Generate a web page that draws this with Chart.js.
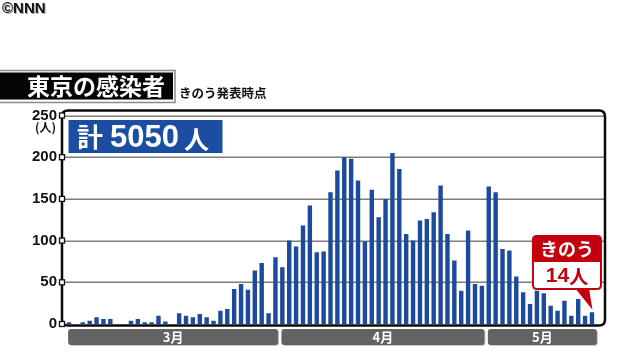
<!DOCTYPE html>
<html><head><meta charset="utf-8">
<script src="https://cdn.jsdelivr.net/npm/chart.js@4/dist/chart.umd.min.js"></script>
<style>html,body{margin:0;padding:0;background:#fff;}#wrap{width:640px;height:360px;position:relative;}</style>
</head><body><div id="wrap"><canvas id="c" width="640" height="360"></canvas></div>
<script>
// ---- data ----
const marchCases = [2,0,2,4,8,6,6,0,0,4,6,2,2,10,3,0,13,10,8,12,8,4,16,18,42,48,41,64,73,13,80];
const aprilCases = [68,100,93,118,142,86,87,158,184,200,198,172,99,161,128,150,205,186,108,100,124,126,134,166,108,76,40,112,48,46];
const mayCases   = [165,158,90,88,57,38,24,40,37,22,16,28,10,30,10,14];
const monthNumbers = [3,4,5];
const monthLabels = ['3月','4月','5月'];
const yTickValues = [0,50,100,150,200,250];
const totalCases = 5050;
const titleText = '東京の感染者';
const subtitleText = 'きのう発表時点';
const unitText = '(人)';
const calloutHead = 'きのう';

const monthSeries = [marchCases, aprilCases, mayCases];
const categories = [];
const values = [];
monthSeries.forEach((arr, mi) => {
  arr.forEach((v, d) => { categories.push(monthNumbers[mi] + '/' + (d + 1)); values.push(v); });
});

const JP = '"Noto Sans CJK JP", "Noto Sans", sans-serif';
const NUM = '"Liberation Sans", Arial, "Noto Sans CJK JP", sans-serif';

function rr(ctx, x, y, w, h, r) {
  ctx.beginPath();
  ctx.moveTo(x + r, y);
  ctx.lineTo(x + w - r, y); ctx.quadraticCurveTo(x + w, y, x + w, y + r);
  ctx.lineTo(x + w, y + h - r); ctx.quadraticCurveTo(x + w, y + h, x + w - r, y + h);
  ctx.lineTo(x + r, y + h); ctx.quadraticCurveTo(x, y + h, x, y + h - r);
  ctx.lineTo(x, y + r); ctx.quadraticCurveTo(x, y, x + r, y);
  ctx.closePath();
}

const FRAME = {x0: 62, x1: 605, y0: 110.5, y1: 325.5};

const decor = {
  id: 'decor',
  beforeDraw(chart) {
    const ctx = chart.ctx;
    ctx.save();
    ctx.fillStyle = '#ffffff';
    ctx.fillRect(0, 0, chart.width, chart.height);
    // logo
    ctx.font = 'bold 15px ' + NUM;
    ctx.textBaseline = 'middle';
    ctx.textAlign = 'left';
    ctx.fillStyle = '#aaa';
    ctx.fillText('©NNN', 3, 9.5);
    ctx.fillStyle = '#111';
    ctx.fillText('©NNN', 2, 8.5);
    // title box
    ctx.strokeStyle = '#8a8a8a';
    ctx.lineWidth = 1.5;
    ctx.strokeRect(-2, 70.5, 177, 32);
    ctx.fillStyle = '#050505';
    ctx.fillRect(0, 72.5, 173, 27);
    ctx.fillStyle = '#ffffff';
    ctx.font = 'bold 23px ' + JP;
    ctx.textAlign = 'center';
    ctx.fillText(titleText, 96, 86.5);
    ctx.fillStyle = '#111';
    ctx.font = 'bold 12.5px ' + JP;
    ctx.textAlign = 'left';
    ctx.fillText(subtitleText, 179, 93.5);
    ctx.restore();
  },
  beforeDatasetsDraw(chart) {
    const ctx = chart.ctx, ys = chart.scales.y;
    ctx.save();
    ctx.strokeStyle = '#7d7d7d';
    ctx.lineWidth = 1.5;
    yTickValues.forEach(v => {
      if (v === 0) return;
      const y = Math.round(ys.getPixelForValue(v)) + 0.25;
      ctx.beginPath(); ctx.moveTo(FRAME.x0, y); ctx.lineTo(FRAME.x1, y); ctx.stroke();
    });
    ctx.restore();
  },
  afterDatasetsDraw(chart) {
    const ctx = chart.ctx, ys = chart.scales.y, xs = chart.scales.x;
    ctx.save();
    // frame
    ctx.strokeStyle = '#0a0a0a';
    ctx.lineWidth = 2.5;
    rr(ctx, FRAME.x0, FRAME.y0, FRAME.x1 - FRAME.x0, FRAME.y1 - FRAME.y0, 6);
    ctx.stroke();
    // tick squares
    yTickValues.forEach(v => {
      const y = ys.getPixelForValue(v);
      ctx.fillStyle = '#fff';
      ctx.fillRect(FRAME.x0 - 2.5, y - 2.5, 5, 5);
      ctx.strokeStyle = '#111';
      ctx.lineWidth = 1.3;
      ctx.strokeRect(FRAME.x0 - 2.5, y - 2.5, 5, 5);
    });
    // unit
    ctx.fillStyle = '#111';
    ctx.font = 'bold 12px ' + JP;
    ctx.textAlign = 'right';
    ctx.textBaseline = 'middle';
    ctx.fillText(unitText, 56, ys.getPixelForValue(250) + 12);

    // total box
    ctx.fillStyle = '#1b4ea3';
    ctx.fillRect(68.5, 120, 154, 33);
    ctx.fillStyle = '#ffffff';
    ctx.textAlign = 'left';
    ctx.font = 'bold 26px ' + JP;
    ctx.fillText('計', 77, 137);
    ctx.font = 'bold 31px ' + NUM;
    ctx.fillText(String(totalCases), 110, 138);
    ctx.font = 'bold 25px ' + JP;
    ctx.fillText('人', 184, 139);

    // month bars
    const pitch = xs.getPixelForValue(1) - xs.getPixelForValue(0);
    let start = 0;
    monthSeries.forEach((arr, mi) => {
      const first = start, last = start + arr.length - 1;
      start += arr.length;
      const xa = xs.getPixelForValue(first) - pitch / 2 + 2.5;
      const xb = xs.getPixelForValue(last) + pitch / 2 - (mi === monthSeries.length - 1 ? -1.5 : 0.8);
      ctx.fillStyle = '#c8c8c8';
      rr(ctx, xa + 1, 330, xb - xa, 16, 3); ctx.fill();
      ctx.fillStyle = '#636363';
      rr(ctx, xa, 329, xb - xa, 16, 3); ctx.fill();
      ctx.fillStyle = '#ffffff';
      ctx.font = 'bold 13px ' + JP;
      ctx.textAlign = 'center';
      ctx.fillText(monthLabels[mi], (xa + xb) / 2, 337.5);
    });

    // callout to last bar
    const meta = chart.getDatasetMeta(0);
    const lastEl = meta.data[meta.data.length - 1];
    const bx = lastEl.x, by = lastEl.y;
    const red = '#c4000e';
    const L = bx - 59, R = bx + 9, T = 236, M = 262, B = 289;
    ctx.fillStyle = red;
    ctx.beginPath();
    ctx.moveTo(bx - 17, B - 1); ctx.lineTo(bx - 3, B - 1); ctx.lineTo(bx + 0.5, by - 2.5); ctx.closePath();
    ctx.fill();
    ctx.fillStyle = '#ffffff';
    rr(ctx, L, T, R - L, B - T, 4); ctx.fill();
    ctx.strokeStyle = red; ctx.lineWidth = 2;
    rr(ctx, L, T, R - L, B - T, 4); ctx.stroke();
    ctx.fillStyle = red;
    ctx.beginPath();
    ctx.moveTo(L + 4, T); ctx.lineTo(R - 4, T); ctx.quadraticCurveTo(R, T, R, T + 4);
    ctx.lineTo(R, M); ctx.lineTo(L, M); ctx.lineTo(L, T + 4); ctx.quadraticCurveTo(L, T, L + 4, T);
    ctx.closePath(); ctx.fill();
    ctx.fillStyle = '#fff';
    ctx.font = 'bold 18px ' + JP;
    ctx.textAlign = 'center';
    ctx.fillText(calloutHead, (L + R) / 2, 249);
    ctx.fillStyle = red;
    ctx.font = 'bold 21px ' + NUM;
    const numStr = String(values[values.length - 1]);
    const nw = ctx.measureText(numStr).width;
    ctx.font = 'bold 19px ' + JP;
    const pw = ctx.measureText('人').width;
    const sx = (L + R) / 2 - (nw + pw) / 2;
    ctx.textAlign = 'left';
    ctx.font = 'bold 21px ' + NUM;
    ctx.fillText(numStr, sx, 276);
    ctx.font = 'bold 19px ' + JP;
    ctx.fillText('人', sx + nw, 276.5);
    ctx.restore();
  }
};

new Chart(document.getElementById('c'), {
  type: 'bar',
  data: {
    labels: categories,
    datasets: [{
      data: values,
      backgroundColor: '#1c4a9f',
      borderWidth: 0,
      barPercentage: 0.8,
      categoryPercentage: 0.8
    }]
  },
  options: {
    responsive: false,
    animation: false,
    devicePixelRatio: 1,
    layout: { padding: { left: 0, right: 44.6, top: 115.5, bottom: 36 } },
    plugins: { legend: { display: false }, tooltip: { enabled: false } },
    scales: {
      x: { display: false, offset: true, grid: { display: false } },
      y: {
        min: 0, max: 250,
        afterFit: s => { s.width = 65.6; },
        afterBuildTicks: s => { s.ticks = yTickValues.map(v => ({ value: v })); },
        grid: { display: false, drawTicks: false },
        border: { display: false },
        ticks: { padding: 8.6, color: '#111', font: { family: NUM, size: 15, weight: 'bold' } }
      }
    }
  },
  plugins: [decor]
});
</script>
</body></html>
